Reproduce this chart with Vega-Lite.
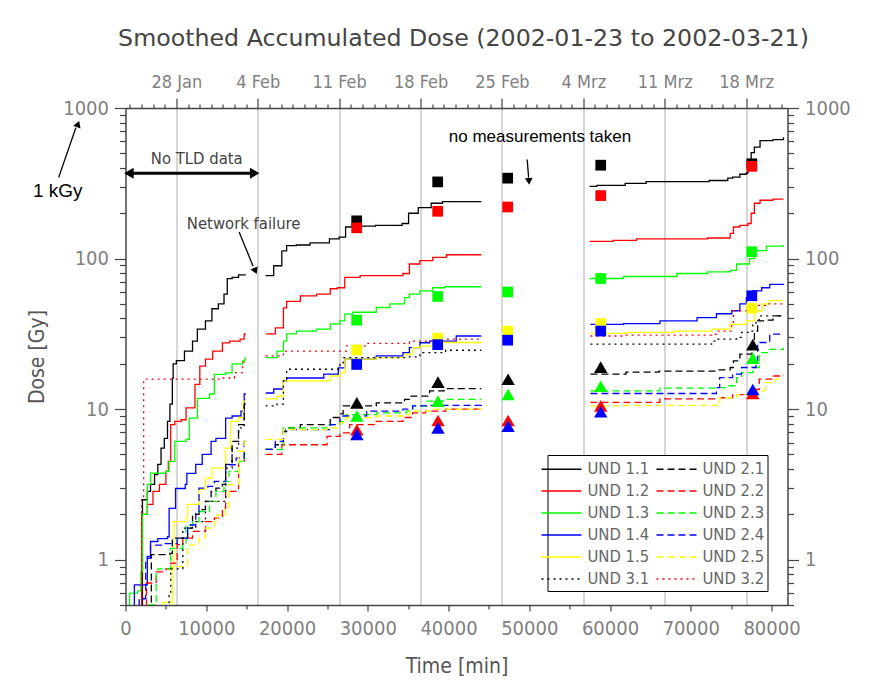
{
"$schema": "https://vega.github.io/schema/vega-lite/v6.json",
"width": 662, "height": 497,
"autosize": {"type": "none"},
"padding": {"left": 125.5, "top": 108, "right": 85.5, "bottom": 76},
"background": "white",
"title": {"text": "Smoothed Accumulated Dose (2002-01-23 to 2002-03-21)", "fontSize": 23.7, "fontWeight": "normal", "color": "#444", "offset": 22, "dx": 7, "anchor": "middle", "font": "DejaVu Sans, sans-serif"},
"datasets": {
"lines": [
{"s":"UND 1.1","g":"A","t":2000,"v":0.3},{"s":"UND 1.1","g":"A","t":2100,"v":2.5},{"s":"UND 1.1","g":"A","t":2700,"v":2.84},{"s":"UND 1.1","g":"A","t":3100,"v":3.16},{"s":"UND 1.1","g":"A","t":3600,"v":3.68},{"s":"UND 1.1","g":"A","t":4000,"v":4.3},{"s":"UND 1.1","g":"A","t":4400,"v":5.5},{"s":"UND 1.1","g":"A","t":4800,"v":6.4},{"s":"UND 1.1","g":"A","t":5200,"v":8.3},{"s":"UND 1.1","g":"A","t":5500,"v":10.8},{"s":"UND 1.1","g":"A","t":5800,"v":16},{"s":"UND 1.1","g":"A","t":5900,"v":20},{"s":"UND 1.1","g":"A","t":6300,"v":21},{"s":"UND 1.1","g":"A","t":7300,"v":24.3},{"s":"UND 1.1","g":"A","t":8300,"v":28.3},{"s":"UND 1.1","g":"A","t":8900,"v":34},{"s":"UND 1.1","g":"A","t":9900,"v":38.6},{"s":"UND 1.1","g":"A","t":10700,"v":46.4},{"s":"UND 1.1","g":"A","t":11500,"v":50},{"s":"UND 1.1","g":"A","t":12200,"v":58},{"s":"UND 1.1","g":"A","t":12600,"v":73.6},{"s":"UND 1.1","g":"A","t":13200,"v":75},{"s":"UND 1.1","g":"A","t":14000,"v":78},{"s":"UND 1.1","g":"A","t":14900,"v":78},
{"s":"UND 1.1","g":"B","t":17355,"v":77},{"s":"UND 1.1","g":"B","t":18355,"v":89.6},{"s":"UND 1.1","g":"B","t":19355,"v":112.6},{"s":"UND 1.1","g":"B","t":19955,"v":122},{"s":"UND 1.1","g":"B","t":21155,"v":123},{"s":"UND 1.1","g":"B","t":22855,"v":127},{"s":"UND 1.1","g":"B","t":25255,"v":135},{"s":"UND 1.1","g":"B","t":26455,"v":139},{"s":"UND 1.1","g":"B","t":27255,"v":162},{"s":"UND 1.1","g":"B","t":28455,"v":164},{"s":"UND 1.1","g":"B","t":30955,"v":166},{"s":"UND 1.1","g":"B","t":34255,"v":171},{"s":"UND 1.1","g":"B","t":35055,"v":200},{"s":"UND 1.1","g":"B","t":36255,"v":218},{"s":"UND 1.1","g":"B","t":37855,"v":233},{"s":"UND 1.1","g":"B","t":39255,"v":239},{"s":"UND 1.1","g":"B","t":44055,"v":239},
{"s":"UND 1.1","g":"C","t":57480,"v":302},{"s":"UND 1.1","g":"C","t":58380,"v":306},{"s":"UND 1.1","g":"C","t":61880,"v":316},{"s":"UND 1.1","g":"C","t":64480,"v":324},{"s":"UND 1.1","g":"C","t":72280,"v":330},{"s":"UND 1.1","g":"C","t":74580,"v":342},{"s":"UND 1.1","g":"C","t":75180,"v":347},{"s":"UND 1.1","g":"C","t":76080,"v":363},{"s":"UND 1.1","g":"C","t":76880,"v":370},{"s":"UND 1.1","g":"C","t":77080,"v":386},{"s":"UND 1.1","g":"C","t":77480,"v":505},{"s":"UND 1.1","g":"C","t":77880,"v":550},{"s":"UND 1.1","g":"C","t":78580,"v":608},{"s":"UND 1.1","g":"C","t":80180,"v":616},{"s":"UND 1.1","g":"C","t":81480,"v":640},

{"s":"UND 1.2","g":"A","t":1000,"v":0.3},{"s":"UND 1.2","g":"A","t":2000,"v":2.0},{"s":"UND 1.2","g":"A","t":2700,"v":2.33},{"s":"UND 1.2","g":"A","t":3400,"v":2.84},{"s":"UND 1.2","g":"A","t":4200,"v":3.16},{"s":"UND 1.2","g":"A","t":5000,"v":3.86},{"s":"UND 1.2","g":"A","t":5300,"v":4.5},{"s":"UND 1.2","g":"A","t":5600,"v":7.9},{"s":"UND 1.2","g":"A","t":6100,"v":8.3},{"s":"UND 1.2","g":"A","t":6900,"v":8.5},{"s":"UND 1.2","g":"A","t":7500,"v":10.2},{"s":"UND 1.2","g":"A","t":8600,"v":14.6},{"s":"UND 1.2","g":"A","t":9200,"v":19.3},{"s":"UND 1.2","g":"A","t":9900,"v":21.5},{"s":"UND 1.2","g":"A","t":10800,"v":24.3},{"s":"UND 1.2","g":"A","t":12000,"v":27.5},{"s":"UND 1.2","g":"A","t":12900,"v":28.3},{"s":"UND 1.2","g":"A","t":14200,"v":29.2},{"s":"UND 1.2","g":"A","t":14700,"v":31.6},{"s":"UND 1.2","g":"A","t":14900,"v":31.6},
{"s":"UND 1.2","g":"B","t":17355,"v":31.6},{"s":"UND 1.2","g":"B","t":18555,"v":34.6},{"s":"UND 1.2","g":"B","t":19555,"v":47},{"s":"UND 1.2","g":"B","t":19955,"v":52},{"s":"UND 1.2","g":"B","t":21655,"v":56.6},{"s":"UND 1.2","g":"B","t":23655,"v":58},{"s":"UND 1.2","g":"B","t":25355,"v":63},{"s":"UND 1.2","g":"B","t":26255,"v":64},{"s":"UND 1.2","g":"B","t":27155,"v":75},{"s":"UND 1.2","g":"B","t":29055,"v":77},{"s":"UND 1.2","g":"B","t":34355,"v":79.6},{"s":"UND 1.2","g":"B","t":35155,"v":92},{"s":"UND 1.2","g":"B","t":36455,"v":97},{"s":"UND 1.2","g":"B","t":38055,"v":101.7},{"s":"UND 1.2","g":"B","t":39755,"v":106},{"s":"UND 1.2","g":"B","t":44055,"v":106},
{"s":"UND 1.2","g":"C","t":57480,"v":130},{"s":"UND 1.2","g":"C","t":60380,"v":132},{"s":"UND 1.2","g":"C","t":63280,"v":135},{"s":"UND 1.2","g":"C","t":72080,"v":137},{"s":"UND 1.2","g":"C","t":74880,"v":147},{"s":"UND 1.2","g":"C","t":75280,"v":162},{"s":"UND 1.2","g":"C","t":76080,"v":166},{"s":"UND 1.2","g":"C","t":77080,"v":171},{"s":"UND 1.2","g":"C","t":77480,"v":200},{"s":"UND 1.2","g":"C","t":77880,"v":233},{"s":"UND 1.2","g":"C","t":78580,"v":244},{"s":"UND 1.2","g":"C","t":80180,"v":248},{"s":"UND 1.2","g":"C","t":81480,"v":248},

{"s":"UND 1.3","g":"A","t":400,"v":0.3},{"s":"UND 1.3","g":"A","t":500,"v":0.6},{"s":"UND 1.3","g":"A","t":1500,"v":0.62},{"s":"UND 1.3","g":"A","t":1900,"v":0.83},{"s":"UND 1.3","g":"A","t":2100,"v":2.0},{"s":"UND 1.3","g":"A","t":2700,"v":3.16},{"s":"UND 1.3","g":"A","t":3100,"v":3.76},{"s":"UND 1.3","g":"A","t":5000,"v":3.86},{"s":"UND 1.3","g":"A","t":5400,"v":4.5},{"s":"UND 1.3","g":"A","t":6100,"v":6.1},{"s":"UND 1.3","g":"A","t":7500,"v":6.3},{"s":"UND 1.3","g":"A","t":7900,"v":8.7},{"s":"UND 1.3","g":"A","t":8900,"v":11.8},{"s":"UND 1.3","g":"A","t":10400,"v":12.6},{"s":"UND 1.3","g":"A","t":11000,"v":17},{"s":"UND 1.3","g":"A","t":12400,"v":17.4},{"s":"UND 1.3","g":"A","t":13200,"v":20},{"s":"UND 1.3","g":"A","t":14500,"v":20.9},{"s":"UND 1.3","g":"A","t":14800,"v":21.9},{"s":"UND 1.3","g":"A","t":14900,"v":21.9},
{"s":"UND 1.3","g":"B","t":17355,"v":22},{"s":"UND 1.3","g":"B","t":18755,"v":24.3},{"s":"UND 1.3","g":"B","t":19555,"v":28.3},{"s":"UND 1.3","g":"B","t":19955,"v":31.6},{"s":"UND 1.3","g":"B","t":21155,"v":33},{"s":"UND 1.3","g":"B","t":23655,"v":34},{"s":"UND 1.3","g":"B","t":25355,"v":36.8},{"s":"UND 1.3","g":"B","t":26555,"v":38.6},{"s":"UND 1.3","g":"B","t":27155,"v":42.7},{"s":"UND 1.3","g":"B","t":28155,"v":44},{"s":"UND 1.3","g":"B","t":31055,"v":47.3},{"s":"UND 1.3","g":"B","t":32755,"v":50},{"s":"UND 1.3","g":"B","t":34555,"v":55},{"s":"UND 1.3","g":"B","t":35155,"v":58},{"s":"UND 1.3","g":"B","t":36455,"v":61},{"s":"UND 1.3","g":"B","t":38055,"v":64},{"s":"UND 1.3","g":"B","t":39555,"v":65},{"s":"UND 1.3","g":"B","t":44055,"v":65},
{"s":"UND 1.3","g":"C","t":57480,"v":73.7},{"s":"UND 1.3","g":"C","t":61680,"v":76},{"s":"UND 1.3","g":"C","t":68280,"v":79.6},{"s":"UND 1.3","g":"C","t":72080,"v":81.5},{"s":"UND 1.3","g":"C","t":74880,"v":83.5},{"s":"UND 1.3","g":"C","t":75680,"v":92},{"s":"UND 1.3","g":"C","t":77280,"v":100},{"s":"UND 1.3","g":"C","t":77880,"v":113},{"s":"UND 1.3","g":"C","t":79380,"v":121},{"s":"UND 1.3","g":"C","t":81480,"v":123},

{"s":"UND 1.4","g":"A","t":1000,"v":0.3},{"s":"UND 1.4","g":"A","t":1100,"v":0.68},{"s":"UND 1.4","g":"A","t":2700,"v":1.05},{"s":"UND 1.4","g":"A","t":3100,"v":1.32},{"s":"UND 1.4","g":"A","t":4000,"v":1.38},{"s":"UND 1.4","g":"A","t":5200,"v":1.42},{"s":"UND 1.4","g":"A","t":5400,"v":2.19},{"s":"UND 1.4","g":"A","t":6200,"v":2.97},{"s":"UND 1.4","g":"A","t":7400,"v":3.16},{"s":"UND 1.4","g":"A","t":7600,"v":3.74},{"s":"UND 1.4","g":"A","t":8700,"v":4.3},{"s":"UND 1.4","g":"A","t":9500,"v":5.0},{"s":"UND 1.4","g":"A","t":10600,"v":6.1},{"s":"UND 1.4","g":"A","t":11200,"v":6.4},{"s":"UND 1.4","g":"A","t":12400,"v":8.7},{"s":"UND 1.4","g":"A","t":13200,"v":9.0},{"s":"UND 1.4","g":"A","t":14300,"v":9.7},{"s":"UND 1.4","g":"A","t":14700,"v":12.6},{"s":"UND 1.4","g":"A","t":14900,"v":12.6},
{"s":"UND 1.4","g":"B","t":17355,"v":12.8},{"s":"UND 1.4","g":"B","t":18355,"v":13.6},{"s":"UND 1.4","g":"B","t":19555,"v":15.4},{"s":"UND 1.4","g":"B","t":19955,"v":16.1},{"s":"UND 1.4","g":"B","t":24555,"v":17.1},{"s":"UND 1.4","g":"B","t":26355,"v":18.8},{"s":"UND 1.4","g":"B","t":27155,"v":21.5},{"s":"UND 1.4","g":"B","t":31055,"v":22.6},{"s":"UND 1.4","g":"B","t":34355,"v":23.7},{"s":"UND 1.4","g":"B","t":35155,"v":25.6},{"s":"UND 1.4","g":"B","t":36455,"v":27.6},{"s":"UND 1.4","g":"B","t":37655,"v":28.3},{"s":"UND 1.4","g":"B","t":40955,"v":30.6},{"s":"UND 1.4","g":"B","t":44055,"v":30.6},
{"s":"UND 1.4","g":"C","t":57580,"v":36.6},{"s":"UND 1.4","g":"C","t":61680,"v":37},{"s":"UND 1.4","g":"C","t":66180,"v":38.6},{"s":"UND 1.4","g":"C","t":70780,"v":40.5},{"s":"UND 1.4","g":"C","t":73180,"v":43},{"s":"UND 1.4","g":"C","t":75080,"v":45},{"s":"UND 1.4","g":"C","t":76080,"v":50},{"s":"UND 1.4","g":"C","t":76880,"v":55},{"s":"UND 1.4","g":"C","t":77680,"v":61},{"s":"UND 1.4","g":"C","t":78780,"v":64},{"s":"UND 1.4","g":"C","t":79780,"v":67.4},{"s":"UND 1.4","g":"C","t":81480,"v":68},

{"s":"UND 1.5","g":"A","t":4500,"v":0.3},{"s":"UND 1.5","g":"A","t":4600,"v":0.52},{"s":"UND 1.5","g":"A","t":5800,"v":0.87},{"s":"UND 1.5","g":"A","t":6000,"v":1.79},{"s":"UND 1.5","g":"A","t":7500,"v":1.89},{"s":"UND 1.5","g":"A","t":7700,"v":2.33},{"s":"UND 1.5","g":"A","t":9100,"v":2.93},{"s":"UND 1.5","g":"A","t":9900,"v":3.48},{"s":"UND 1.5","g":"A","t":10700,"v":4.06},{"s":"UND 1.5","g":"A","t":12400,"v":5.5},{"s":"UND 1.5","g":"A","t":13000,"v":8.3},{"s":"UND 1.5","g":"A","t":14000,"v":8.8},{"s":"UND 1.5","g":"A","t":14600,"v":11.3},{"s":"UND 1.5","g":"A","t":14900,"v":11.3},
{"s":"UND 1.5","g":"B","t":17355,"v":11.7},{"s":"UND 1.5","g":"B","t":18755,"v":12.2},{"s":"UND 1.5","g":"B","t":19555,"v":15.4},{"s":"UND 1.5","g":"B","t":25355,"v":16.6},{"s":"UND 1.5","g":"B","t":26555,"v":17.4},{"s":"UND 1.5","g":"B","t":27155,"v":21.5},{"s":"UND 1.5","g":"B","t":31055,"v":22},{"s":"UND 1.5","g":"B","t":34555,"v":23.2},{"s":"UND 1.5","g":"B","t":35555,"v":25.6},{"s":"UND 1.5","g":"B","t":36455,"v":26.2},{"s":"UND 1.5","g":"B","t":38455,"v":27.7},{"s":"UND 1.5","g":"B","t":44055,"v":28},
{"s":"UND 1.5","g":"C","t":57580,"v":31.8},{"s":"UND 1.5","g":"C","t":61980,"v":32.3},{"s":"UND 1.5","g":"C","t":67880,"v":33},{"s":"UND 1.5","g":"C","t":72580,"v":34},{"s":"UND 1.5","g":"C","t":74880,"v":36.6},{"s":"UND 1.5","g":"C","t":76880,"v":38.6},{"s":"UND 1.5","g":"C","t":77880,"v":45},{"s":"UND 1.5","g":"C","t":78880,"v":50},{"s":"UND 1.5","g":"C","t":79780,"v":52.5},{"s":"UND 1.5","g":"C","t":81480,"v":52.5},

{"s":"UND 2.1","g":"A","t":2200,"v":0.3},{"s":"UND 2.1","g":"A","t":3200,"v":1.08},{"s":"UND 2.1","g":"A","t":5500,"v":1.1},{"s":"UND 2.1","g":"A","t":5800,"v":1.39},{"s":"UND 2.1","g":"A","t":7700,"v":1.62},{"s":"UND 2.1","g":"A","t":8300,"v":2.0},{"s":"UND 2.1","g":"A","t":9100,"v":2.15},{"s":"UND 2.1","g":"A","t":9900,"v":2.44},{"s":"UND 2.1","g":"A","t":10600,"v":2.84},{"s":"UND 2.1","g":"A","t":11200,"v":2.99},{"s":"UND 2.1","g":"A","t":12000,"v":3.16},{"s":"UND 2.1","g":"A","t":12400,"v":4.3},{"s":"UND 2.1","g":"A","t":13200,"v":6.1},{"s":"UND 2.1","g":"A","t":14000,"v":7.9},{"s":"UND 2.1","g":"A","t":14700,"v":10.8},{"s":"UND 2.1","g":"A","t":14900,"v":10.8},
{"s":"UND 2.1","g":"B","t":17355,"v":5.4},{"s":"UND 2.1","g":"B","t":18555,"v":5.8},{"s":"UND 2.1","g":"B","t":19555,"v":7.1},{"s":"UND 2.1","g":"B","t":19955,"v":7.5},{"s":"UND 2.1","g":"B","t":21655,"v":7.9},{"s":"UND 2.1","g":"B","t":25355,"v":8.8},{"s":"UND 2.1","g":"B","t":26555,"v":9.3},{"s":"UND 2.1","g":"B","t":26955,"v":10.5},{"s":"UND 2.1","g":"B","t":31055,"v":11.0},{"s":"UND 2.1","g":"B","t":34555,"v":11.6},{"s":"UND 2.1","g":"B","t":35155,"v":12.2},{"s":"UND 2.1","g":"B","t":37655,"v":13.2},{"s":"UND 2.1","g":"B","t":39455,"v":13.7},{"s":"UND 2.1","g":"B","t":44055,"v":13.7},
{"s":"UND 2.1","g":"C","t":57580,"v":17.1},{"s":"UND 2.1","g":"C","t":61980,"v":17.6},{"s":"UND 2.1","g":"C","t":66080,"v":17.9},{"s":"UND 2.1","g":"C","t":73380,"v":18.2},{"s":"UND 2.1","g":"C","t":74880,"v":18.9},{"s":"UND 2.1","g":"C","t":75280,"v":20.9},{"s":"UND 2.1","g":"C","t":76080,"v":23.2},{"s":"UND 2.1","g":"C","t":77580,"v":27.7},{"s":"UND 2.1","g":"C","t":77880,"v":33},{"s":"UND 2.1","g":"C","t":78280,"v":38.6},{"s":"UND 2.1","g":"C","t":79280,"v":39},{"s":"UND 2.1","g":"C","t":80180,"v":41.6},{"s":"UND 2.1","g":"C","t":81480,"v":41.6},

{"s":"UND 2.2","g":"A","t":2500,"v":0.3},{"s":"UND 2.2","g":"A","t":2600,"v":0.7},{"s":"UND 2.2","g":"A","t":3800,"v":0.83},{"s":"UND 2.2","g":"A","t":5000,"v":0.87},{"s":"UND 2.2","g":"A","t":5600,"v":0.95},{"s":"UND 2.2","g":"A","t":6400,"v":1.26},{"s":"UND 2.2","g":"A","t":7100,"v":1.39},{"s":"UND 2.2","g":"A","t":8300,"v":1.54},{"s":"UND 2.2","g":"A","t":9900,"v":1.79},{"s":"UND 2.2","g":"A","t":11000,"v":1.89},{"s":"UND 2.2","g":"A","t":12000,"v":2.2},{"s":"UND 2.2","g":"A","t":12400,"v":2.84},{"s":"UND 2.2","g":"A","t":14000,"v":4.5},{"s":"UND 2.2","g":"A","t":14700,"v":5.0},{"s":"UND 2.2","g":"A","t":14900,"v":5.0},
{"s":"UND 2.2","g":"B","t":17355,"v":5.0},{"s":"UND 2.2","g":"B","t":19355,"v":5.8},{"s":"UND 2.2","g":"B","t":24955,"v":6.6},{"s":"UND 2.2","g":"B","t":26555,"v":6.96},{"s":"UND 2.2","g":"B","t":27755,"v":7.9},{"s":"UND 2.2","g":"B","t":31055,"v":8.3},{"s":"UND 2.2","g":"B","t":34355,"v":8.8},{"s":"UND 2.2","g":"B","t":35555,"v":9.45},{"s":"UND 2.2","g":"B","t":37155,"v":9.7},{"s":"UND 2.2","g":"B","t":39655,"v":10.0},{"s":"UND 2.2","g":"B","t":44055,"v":10.0},
{"s":"UND 2.2","g":"C","t":57580,"v":11.1},{"s":"UND 2.2","g":"C","t":66180,"v":11.7},{"s":"UND 2.2","g":"C","t":73580,"v":11.9},{"s":"UND 2.2","g":"C","t":75180,"v":12.5},{"s":"UND 2.2","g":"C","t":77680,"v":13.5},{"s":"UND 2.2","g":"C","t":78480,"v":15.8},{"s":"UND 2.2","g":"C","t":80180,"v":16.6},{"s":"UND 2.2","g":"C","t":81480,"v":16.9},

{"s":"UND 2.3","g":"A","t":1500,"v":0.3},{"s":"UND 2.3","g":"A","t":2600,"v":0.5},{"s":"UND 2.3","g":"A","t":3800,"v":0.83},{"s":"UND 2.3","g":"A","t":4000,"v":0.87},{"s":"UND 2.3","g":"A","t":5600,"v":1.19},{"s":"UND 2.3","g":"A","t":7100,"v":1.25},{"s":"UND 2.3","g":"A","t":7500,"v":1.7},{"s":"UND 2.3","g":"A","t":8300,"v":1.79},{"s":"UND 2.3","g":"A","t":9100,"v":2.09},{"s":"UND 2.3","g":"A","t":10400,"v":2.44},{"s":"UND 2.3","g":"A","t":11200,"v":2.84},{"s":"UND 2.3","g":"A","t":12200,"v":3.31},{"s":"UND 2.3","g":"A","t":12800,"v":3.86},{"s":"UND 2.3","g":"A","t":14000,"v":4.5},{"s":"UND 2.3","g":"A","t":14700,"v":5.1},{"s":"UND 2.3","g":"A","t":14900,"v":5.1},
{"s":"UND 2.3","g":"B","t":17355,"v":5.4},{"s":"UND 2.3","g":"B","t":19555,"v":7.5},{"s":"UND 2.3","g":"B","t":24955,"v":7.9},{"s":"UND 2.3","g":"B","t":26555,"v":8.3},{"s":"UND 2.3","g":"B","t":27355,"v":9.2},{"s":"UND 2.3","g":"B","t":31055,"v":9.45},{"s":"UND 2.3","g":"B","t":34755,"v":9.7},{"s":"UND 2.3","g":"B","t":35555,"v":10.5},{"s":"UND 2.3","g":"B","t":37255,"v":11.3},{"s":"UND 2.3","g":"B","t":39355,"v":11.6},{"s":"UND 2.3","g":"B","t":44055,"v":11.6},
{"s":"UND 2.3","g":"C","t":57580,"v":13.2},{"s":"UND 2.3","g":"C","t":66180,"v":13.8},{"s":"UND 2.3","g":"C","t":73180,"v":13.9},{"s":"UND 2.3","g":"C","t":74380,"v":14.3},{"s":"UND 2.3","g":"C","t":75680,"v":16.2},{"s":"UND 2.3","g":"C","t":76280,"v":17.5},{"s":"UND 2.3","g":"C","t":77680,"v":18.9},{"s":"UND 2.3","g":"C","t":78480,"v":23.7},{"s":"UND 2.3","g":"C","t":79780,"v":24.9},{"s":"UND 2.3","g":"C","t":81480,"v":25.6},

{"s":"UND 2.4","g":"A","t":1600,"v":0.3},{"s":"UND 2.4","g":"A","t":1700,"v":0.55},{"s":"UND 2.4","g":"A","t":2500,"v":1.02},{"s":"UND 2.4","g":"A","t":3100,"v":1.25},{"s":"UND 2.4","g":"A","t":4600,"v":1.28},{"s":"UND 2.4","g":"A","t":6400,"v":1.39},{"s":"UND 2.4","g":"A","t":7700,"v":1.7},{"s":"UND 2.4","g":"A","t":8700,"v":2.09},{"s":"UND 2.4","g":"A","t":9100,"v":2.99},{"s":"UND 2.4","g":"A","t":10200,"v":3.07},{"s":"UND 2.4","g":"A","t":11000,"v":3.31},{"s":"UND 2.4","g":"A","t":12400,"v":4.27},{"s":"UND 2.4","g":"A","t":13700,"v":4.73},{"s":"UND 2.4","g":"A","t":14700,"v":6.1},{"s":"UND 2.4","g":"A","t":14900,"v":6.1},
{"s":"UND 2.4","g":"B","t":17355,"v":5.4},{"s":"UND 2.4","g":"B","t":18555,"v":6.1},{"s":"UND 2.4","g":"B","t":19555,"v":7.3},{"s":"UND 2.4","g":"B","t":25355,"v":7.9},{"s":"UND 2.4","g":"B","t":26555,"v":9.0},{"s":"UND 2.4","g":"B","t":29855,"v":9.7},{"s":"UND 2.4","g":"B","t":34355,"v":10.0},{"s":"UND 2.4","g":"B","t":35555,"v":10.5},{"s":"UND 2.4","g":"B","t":37655,"v":10.6},{"s":"UND 2.4","g":"B","t":44055,"v":10.8},
{"s":"UND 2.4","g":"C","t":57580,"v":12.7},{"s":"UND 2.4","g":"C","t":73180,"v":13.9},{"s":"UND 2.4","g":"C","t":73580,"v":16.2},{"s":"UND 2.4","g":"C","t":75180,"v":17.1},{"s":"UND 2.4","g":"C","t":76280,"v":18.9},{"s":"UND 2.4","g":"C","t":78080,"v":20.9},{"s":"UND 2.4","g":"C","t":78280,"v":27.7},{"s":"UND 2.4","g":"C","t":79780,"v":31.5},{"s":"UND 2.4","g":"C","t":81480,"v":31.8},

{"s":"UND 2.5","g":"A","t":4400,"v":0.3},{"s":"UND 2.5","g":"A","t":5800,"v":0.9},{"s":"UND 2.5","g":"A","t":7200,"v":0.92},{"s":"UND 2.5","g":"A","t":7700,"v":1.25},{"s":"UND 2.5","g":"A","t":9100,"v":1.39},{"s":"UND 2.5","g":"A","t":9900,"v":1.62},{"s":"UND 2.5","g":"A","t":11000,"v":1.79},{"s":"UND 2.5","g":"A","t":11400,"v":1.98},{"s":"UND 2.5","g":"A","t":12400,"v":2.2},{"s":"UND 2.5","g":"A","t":12800,"v":3.15},{"s":"UND 2.5","g":"A","t":14000,"v":5.25},{"s":"UND 2.5","g":"A","t":14700,"v":6.1},{"s":"UND 2.5","g":"A","t":14900,"v":6.1},
{"s":"UND 2.5","g":"B","t":17355,"v":6.3},{"s":"UND 2.5","g":"B","t":19555,"v":7.3},{"s":"UND 2.5","g":"B","t":24955,"v":7.5},{"s":"UND 2.5","g":"B","t":26555,"v":8.1},{"s":"UND 2.5","g":"B","t":27355,"v":8.8},{"s":"UND 2.5","g":"B","t":31055,"v":9.0},{"s":"UND 2.5","g":"B","t":34355,"v":9.2},{"s":"UND 2.5","g":"B","t":35155,"v":9.7},{"s":"UND 2.5","g":"B","t":37655,"v":10.0},{"s":"UND 2.5","g":"B","t":44055,"v":10.1},
{"s":"UND 2.5","g":"C","t":57580,"v":10.5},{"s":"UND 2.5","g":"C","t":61280,"v":10.6},{"s":"UND 2.5","g":"C","t":73180,"v":11.0},{"s":"UND 2.5","g":"C","t":73580,"v":11.9},{"s":"UND 2.5","g":"C","t":75680,"v":12.5},{"s":"UND 2.5","g":"C","t":78080,"v":13.2},{"s":"UND 2.5","g":"C","t":79280,"v":15.0},{"s":"UND 2.5","g":"C","t":80480,"v":15.8},{"s":"UND 2.5","g":"C","t":81480,"v":16.0},

{"s":"UND 3.1","g":"A","t":5300,"v":0.3},{"s":"UND 3.1","g":"A","t":5400,"v":0.58},{"s":"UND 3.1","g":"A","t":5600,"v":0.87},{"s":"UND 3.1","g":"A","t":7100,"v":1.62},{"s":"UND 3.1","g":"A","t":8700,"v":1.79},{"s":"UND 3.1","g":"A","t":9900,"v":2.44},{"s":"UND 3.1","g":"A","t":12400,"v":4.06},{"s":"UND 3.1","g":"A","t":13200,"v":5.5},{"s":"UND 3.1","g":"A","t":14000,"v":7.5},{"s":"UND 3.1","g":"A","t":14700,"v":10.5},{"s":"UND 3.1","g":"A","t":14900,"v":10.5},
{"s":"UND 3.1","g":"B","t":17355,"v":10.5},{"s":"UND 3.1","g":"B","t":18755,"v":10.8},{"s":"UND 3.1","g":"B","t":19555,"v":15.4},{"s":"UND 3.1","g":"B","t":19955,"v":18.4},{"s":"UND 3.1","g":"B","t":26555,"v":19.8},{"s":"UND 3.1","g":"B","t":26955,"v":22},{"s":"UND 3.1","g":"B","t":34755,"v":22.2},{"s":"UND 3.1","g":"B","t":36455,"v":23.7},{"s":"UND 3.1","g":"B","t":39655,"v":24.6},{"s":"UND 3.1","g":"B","t":44055,"v":24.6},
{"s":"UND 3.1","g":"C","t":57580,"v":27},{"s":"UND 3.1","g":"C","t":72580,"v":28.3},{"s":"UND 3.1","g":"C","t":73180,"v":29.2},{"s":"UND 3.1","g":"C","t":75680,"v":30},{"s":"UND 3.1","g":"C","t":76280,"v":32.3},{"s":"UND 3.1","g":"C","t":77580,"v":33},{"s":"UND 3.1","g":"C","t":77680,"v":36.6},{"s":"UND 3.1","g":"C","t":78080,"v":39.1},{"s":"UND 3.1","g":"C","t":78480,"v":41.6},{"s":"UND 3.1","g":"C","t":81480,"v":42},

{"s":"UND 3.2","g":"A","t":1900,"v":0.3},{"s":"UND 3.2","g":"A","t":2000,"v":2.56},{"s":"UND 3.2","g":"A","t":2250,"v":15.8},{"s":"UND 3.2","g":"A","t":12000,"v":16.1},{"s":"UND 3.2","g":"A","t":13500,"v":17.5},{"s":"UND 3.2","g":"A","t":14500,"v":20.5},{"s":"UND 3.2","g":"A","t":14900,"v":21.5},
{"s":"UND 3.2","g":"B","t":17355,"v":22.6},{"s":"UND 3.2","g":"B","t":19555,"v":24.3},{"s":"UND 3.2","g":"B","t":27355,"v":26.3},{"s":"UND 3.2","g":"B","t":29855,"v":27.3},{"s":"UND 3.2","g":"B","t":35155,"v":28.3},{"s":"UND 3.2","g":"B","t":38455,"v":29.2},{"s":"UND 3.2","g":"B","t":44055,"v":29.5},
{"s":"UND 3.2","g":"C","t":57580,"v":30.6},{"s":"UND 3.2","g":"C","t":61980,"v":31},{"s":"UND 3.2","g":"C","t":72580,"v":31.5},{"s":"UND 3.2","g":"C","t":73180,"v":33},{"s":"UND 3.2","g":"C","t":75080,"v":35.8},{"s":"UND 3.2","g":"C","t":75280,"v":45},{"s":"UND 3.2","g":"C","t":77580,"v":48.8},{"s":"UND 3.2","g":"C","t":79380,"v":50},{"s":"UND 3.2","g":"C","t":81480,"v":50}
],
"squares": [
{"s":"UND 1.1","t":28630,"v":178},{"s":"UND 1.2","t":28630,"v":160},{"s":"UND 1.3","t":28630,"v":39},{"s":"UND 1.5","t":28630,"v":24.7},{"s":"UND 1.4","t":28630,"v":19.8},
{"s":"UND 1.1","t":38660,"v":323},{"s":"UND 1.2","t":38660,"v":206},{"s":"UND 1.3","t":38660,"v":56},{"s":"UND 1.5","t":38660,"v":29.6},{"s":"UND 1.4","t":38660,"v":26.8},
{"s":"UND 1.1","t":47330,"v":342},{"s":"UND 1.2","t":47330,"v":220},{"s":"UND 1.3","t":47330,"v":60},{"s":"UND 1.5","t":47330,"v":33},{"s":"UND 1.4","t":47330,"v":28.7},
{"s":"UND 1.1","t":58850,"v":417},{"s":"UND 1.2","t":58850,"v":262},{"s":"UND 1.3","t":58850,"v":73.7},{"s":"UND 1.5","t":58850,"v":37},{"s":"UND 1.4","t":58850,"v":33},
{"s":"UND 1.1","t":77560,"v":426},{"s":"UND 1.2","t":77560,"v":410},{"s":"UND 1.3","t":77560,"v":111},{"s":"UND 1.5","t":77560,"v":46.8},{"s":"UND 1.4","t":77560,"v":56.6}
],
"triangles": [
{"s":"UND 2.1","t":28650,"v":11},{"s":"UND 2.3","t":28650,"v":9.0},{"s":"UND 2.2","t":28650,"v":7.3},{"s":"UND 2.4","t":28650,"v":6.8},
{"s":"UND 2.1","t":38700,"v":15.1},{"s":"UND 2.3","t":38700,"v":11.3},{"s":"UND 2.2","t":38700,"v":8.4},{"s":"UND 2.4","t":38700,"v":7.5},
{"s":"UND 2.1","t":47380,"v":15.8},{"s":"UND 2.3","t":47380,"v":12.5},{"s":"UND 2.2","t":47380,"v":8.4},{"s":"UND 2.4","t":47380,"v":7.7},
{"s":"UND 2.1","t":58850,"v":19.0},{"s":"UND 2.3","t":58850,"v":14.2},{"s":"UND 2.2","t":58850,"v":10.5},{"s":"UND 2.4","t":58850,"v":9.6},
{"s":"UND 2.1","t":77680,"v":26.8},{"s":"UND 2.3","t":77680,"v":21.8},{"s":"UND 2.2","t":77680,"v":12.7},{"s":"UND 2.4","t":77680,"v":13.5}
],
"thick": [{"t":617,"t2":15800,"v":369}],
"thin": [
{"t":14070,"t2":15800,"v":150,"v2":89},
{"t":49745,"t2":49920,"v":455,"v2":345},
{"t":-8272,"t2":-6150,"v":346,"v2":740}
],
"heads": [
{"t":617,"v":369,"a":270,"k":"big"},{"t":15800,"v":369,"a":90,"k":"big"},
{"t":16030,"v":84,"a":157,"k":"small"},{"t":49953,"v":331,"a":176,"k":"small"},{"t":-5926,"v":770,"a":20,"k":"small"}
],
"grayText": [
{"label":"No TLD data","t":8827,"v":457},{"label":"Network failure","t":14630,"v":170}
],
"measText": [
{"label":"no measurements taken","t":51330,"v":644}
],
"kgyText": [
{"label":"1 kGy","t":-8395,"v":283}
]
},
"resolve": {"axis": {"x": "independent", "y": "independent"}},
"layer": [
{
"data": {"name": "lines"},
"mark": {"type": "line", "interpolate": "step-after", "clip": true, "strokeWidth": 1.3},
"encoding": {
"x": {"field": "t", "type": "quantitative", "scale": {"domain": [0, 81980], "nice": false, "zero": false},
 "axis": {"orient": "bottom", "title": "Time [min]", "titlePadding": 17,
  "values": [0,5000,10000,15000,20000,25000,30000,35000,40000,45000,50000,55000,60000,65000,70000,75000,80000],
  "labelExpr": "datum.value % 10000 === 0 ? format(datum.value, 'd') : ''",
  "tickSize": {"condition": {"test": "datum.value % 10000 === 0", "value": 6}, "value": 4},
  "labelPadding": 7}},
"y": {"field": "v", "type": "quantitative", "scale": {"type": "log", "domain": [0.5, 1000], "nice": false},
 "axis": {"orient": "left", "title": "Dose [Gy]", "titlePadding": 15,
  "values": [0.5,0.6,0.7,0.8,0.9,1,2,3,4,5,6,7,8,9,10,20,30,40,50,60,70,80,90,100,200,300,400,500,600,700,800,900,1000],
  "labelExpr": "indexof([1,10,100,1000], datum.value) >= 0 ? format(datum.value, 'd') : ''",
  "tickSize": {"condition": {"test": "indexof([1,10,100,1000], datum.value) >= 0", "value": 11}, "value": 6},
  "labelPadding": 6}},
"color": {"field": "s", "type": "nominal",
 "scale": {"domain": ["UND 1.1","UND 1.2","UND 1.3","UND 1.4","UND 1.5","UND 3.1","UND 2.1","UND 2.2","UND 2.3","UND 2.4","UND 2.5","UND 3.2"],
  "range": ["#000000","#ff0000","#00ff00","#0000ff","#ffff00","#000000","#000000","#ff0000","#00ff00","#0000ff","#ffff00","#ff0000"]},
 "legend": {"orient": "none", "legendX": 422, "legendY": 347, "columns": 2, "title": null, "symbolType": "M-2,0L2,0", "symbolSize": 400}},
"strokeDash": {"field": "s", "type": "nominal",
 "scale": {"domain": ["UND 1.1","UND 1.2","UND 1.3","UND 1.4","UND 1.5","UND 3.1","UND 2.1","UND 2.2","UND 2.3","UND 2.4","UND 2.5","UND 3.2"],
  "range": [[1,0],[1,0],[1,0],[1,0],[1,0],[2,4],[7,4],[7,4],[7,4],[7,4],[7,4],[2,4]]},
 "legend": {"orient": "none", "legendX": 422, "legendY": 347, "columns": 2, "title": null, "symbolType": "M-2,0L2,0", "symbolSize": 400}},
"detail": {"field": "g"}
}
},
{
"data": {"name": "squares"},
"mark": {"type": "point", "shape": "square", "filled": true, "size": 115, "opacity": 1},
"encoding": {
"x": {"field": "t", "type": "quantitative",
 "axis": {"orient": "top", "title": null, "labelFontSize": 18,
  "values": [540,1980,3420,4860,6300,7740,9180,10620,12060,13500,14940,16380,17820,19260,20700,22140,23580,25020,26460,27900,29340,30780,32220,33660,35100,36540,37980,39420,40860,42300,43740,45180,46620,48060,49500,50940,52380,53820,55260,56700,58140,59580,61020,62460,63900,65340,66780,68220,69660,71100,72540,73980,75420,76860,78300,79740,81180],
  "labelExpr": "(datum.value - 6300) % 10080 === 0 ? ['28 Jan','4 Feb','11 Feb','18 Feb','25 Feb','4 Mrz','11 Mrz','18 Mrz'][(datum.value - 6300) / 10080] : ''",
  "tickSize": {"condition": {"test": "(datum.value - 6300) % 10080 === 0", "value": 10}, "value": 4},
  "grid": true, "gridColor": "#c8c8c8", "gridWidth": 1.5,
  "gridOpacity": {"condition": {"test": "(datum.value - 6300) % 10080 === 0", "value": 1}, "value": 0},
  "labelPadding": 7}},
"y": {"field": "v", "type": "quantitative",
 "axis": {"orient": "right", "title": null,
  "values": [0.5,0.6,0.7,0.8,0.9,1,2,3,4,5,6,7,8,9,10,20,30,40,50,60,70,80,90,100,200,300,400,500,600,700,800,900,1000],
  "labelExpr": "indexof([1,10,100,1000], datum.value) >= 0 ? format(datum.value, 'd') : ''",
  "tickSize": {"condition": {"test": "indexof([1,10,100,1000], datum.value) >= 0", "value": 11}, "value": 6},
  "labelPadding": 6}},
"color": {"field": "s", "type": "nominal", "legend": null}
}
},
{
"data": {"name": "triangles"},
"mark": {"type": "point", "shape": "triangle-up", "filled": true, "size": 180, "opacity": 1},
"encoding": {
"x": {"field": "t", "type": "quantitative", "axis": null},
"y": {"field": "v", "type": "quantitative", "axis": null},
"color": {"field": "s", "type": "nominal", "legend": null}
}
},
{
"data": {"name": "thick"},
"mark": {"type": "rule", "color": "black", "strokeWidth": 3},
"encoding": {
"x": {"field": "t", "type": "quantitative", "axis": null},
"x2": {"field": "t2"},
"y": {"field": "v", "type": "quantitative", "axis": null}
}
},
{
"data": {"name": "thin"},
"mark": {"type": "rule", "color": "black", "strokeWidth": 1.3},
"encoding": {
"x": {"field": "t", "type": "quantitative", "axis": null},
"x2": {"field": "t2"},
"y": {"field": "v", "type": "quantitative", "axis": null},
"y2": {"field": "v2"}
}
},
{
"data": {"name": "heads"},
"mark": {"type": "point", "shape": "triangle", "filled": true, "color": "black", "opacity": 1},
"encoding": {
"x": {"field": "t", "type": "quantitative", "axis": null},
"y": {"field": "v", "type": "quantitative", "axis": null},
"angle": {"field": "a", "type": "quantitative", "scale": null},
"size": {"field": "k", "type": "ordinal", "scale": {"domain": ["big", "small"], "range": [120, 60]}, "legend": null}
}
},
{
"data": {"name": "grayText"},
"mark": {"type": "text", "fontSize": 16.5, "color": "#444"},
"encoding": {
"x": {"field": "t", "type": "quantitative", "axis": null},
"y": {"field": "v", "type": "quantitative", "axis": null},
"text": {"field": "label"}
}
},
{
"data": {"name": "measText"},
"mark": {"type": "text", "fontSize": 17, "color": "black", "font": "Liberation Sans, Arial, sans-serif"},
"encoding": {
"x": {"field": "t", "type": "quantitative", "axis": null},
"y": {"field": "v", "type": "quantitative", "axis": null},
"text": {"field": "label"}
}
},
{
"data": {"name": "kgyText"},
"mark": {"type": "text", "fontSize": 19, "color": "black", "font": "Liberation Sans, Arial, sans-serif"},
"encoding": {
"x": {"field": "t", "type": "quantitative", "axis": null},
"y": {"field": "v", "type": "quantitative", "axis": null},
"text": {"field": "label"}
}
}
],
"config": {
"font": "DejaVu Sans Condensed, Roboto Condensed, Liberation Sans Narrow, Roboto, sans-serif",
"view": {"stroke": null},
"axis": {"domainColor": "#444", "domainWidth": 1.5, "tickColor": "#444", "tickWidth": 1.2, "labelColor": "#808080", "labelFontSize": 20, "titleFontWeight": "normal", "titleColor": "#555", "titleFontSize": 21, "grid": false, "labelOverlap": false, "labelFlush": false, "labelBound": false},
"legend": {"fillColor": "white", "strokeColor": "black", "padding": 3, "labelFontSize": 16.5, "labelColor": "#666", "symbolStrokeWidth": 1.5, "rowPadding": 2, "columnPadding": 4, "labelLimit": 200, "labelOffset": 15}
}
}
